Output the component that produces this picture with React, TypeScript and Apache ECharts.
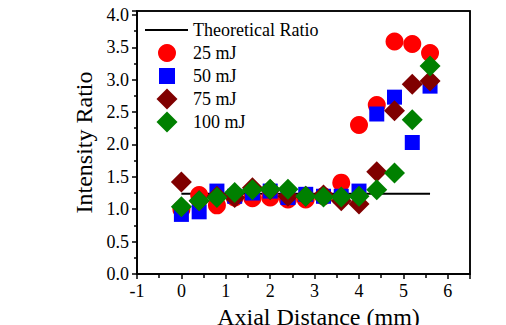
import React, { useEffect, useRef } from "react";
import * as echarts from "echarts";

const xPositions = [0, 0.4, 0.8, 1.2, 1.6, 2.0, 2.4, 2.8, 3.2, 3.6, 4.0, 4.4, 4.8, 5.2, 5.6];
const red25 = [1.0, 1.22, 1.06, 1.18, 1.17, 1.18, 1.15, 1.15, 1.2, 1.41, 2.3, 2.61, 3.59, 3.55, 3.41];
const blue50 = [0.92, 0.96, 1.28, 1.2, 1.25, 1.28, 1.18, 1.23, 1.2, 1.2, 1.28, 2.47, 2.73, 2.03, 2.9];
const maroon75 = [1.42, 1.13, 1.2, 1.18, 1.33, 1.3, 1.2, 1.2, 1.22, 1.13, 1.08, 1.58, 2.52, 2.93, 2.98];
const green100 = [1.04, 1.13, 1.18, 1.26, 1.3, 1.31, 1.31, 1.2, 1.19, 1.19, 1.2, 1.3, 1.56, 2.38, 3.21];
const theoreticalX = [0, 5.6];
const theoreticalY = [1.24, 1.24];
const seriesNames = ["Theoretical Ratio", "25 mJ", "50 mJ", "75 mJ", "100 mJ"];
const seriesColors = ["#000000", "#ff0000", "#0000ff", "#800000", "#008000"];

const X_MIN = -1;
const X_MAX = 6.5;
const Y_MIN = 0;
const Y_MAX = 4.06;

const FONT = "Liberation Serif";

export default function App() {
  const ref = useRef<HTMLDivElement>(null);
  useEffect(() => {
    if (!ref.current) return;
    const chart = echarts.init(ref.current, null, { renderer: "svg" });
    const pts = (ys: number[]) => xPositions.map((x, i) => [x, ys[i]]);

    const legendX = 145;
    const legendTop = 30;
    const legendStep = 23;
    const symCx = legendX + 22;
    const textX = legendX + 48;
    const els: any[] = [];
    seriesNames.forEach((name, i) => {
      const cy = legendTop + i * legendStep;
      const color = seriesColors[i];
      if (i === 0) {
        els.push({ type: "line", shape: { x1: legendX, y1: cy, x2: legendX + 43, y2: cy }, style: { stroke: color, lineWidth: 2 } });
      } else if (i === 1) {
        els.push({ type: "circle", shape: { cx: symCx, cy, r: 9 }, style: { fill: color } });
      } else if (i === 2) {
        els.push({ type: "rect", shape: { x: symCx - 8, y: cy - 8, width: 16, height: 16 }, style: { fill: color } });
      } else {
        els.push({
          type: "polygon",
          shape: { points: [[symCx, cy - 10.5], [symCx + 10.5, cy], [symCx, cy + 10.5], [symCx - 10.5, cy]] },
          style: { fill: color },
        });
      }
      els.push({
        type: "text",
        x: textX,
        y: cy,
        style: { text: name, font: `18px "${FONT}"`, fill: "#000", verticalAlign: "middle", align: "left" },
      });
    });

    chart.setOption({
      animation: false,
      backgroundColor: "#ffffff",
      grid: {
        left: 137,
        right: 36,
        top: 11,
        bottom: 51,
        outerBoundsMode: "none",
        containLabel: false,
        show: true,
        borderColor: "#000",
        borderWidth: 1.5,
        backgroundColor: "rgba(0,0,0,0)",
      },
      graphic: els,
      xAxis: {
        type: "value",
        min: X_MIN,
        max: X_MAX,
        interval: 1,
        axisLine: { show: true, onZero: false, lineStyle: { color: "#000", width: 1.5 } },
        axisTick: { show: true, inside: false, length: 5, lineStyle: { color: "#000", width: 1.5 } },
        minorTick: { show: true, splitNumber: 2, length: 4, lineStyle: { color: "#000", width: 1.5 } },
        splitLine: { show: false },
        axisLabel: {
          fontFamily: FONT,
          fontSize: 18,
          color: "#000",
          margin: 8,
          showMaxLabel: false,
          formatter: (v: number) => (Number.isInteger(v) ? String(v) : ""),
        },
        name: "Axial Distance (mm)",
        nameLocation: "middle",
        nameGap: 24,
        nameTextStyle: { fontFamily: FONT, fontSize: 24, color: "#000", padding: [0, 0, 0, 30] },
      },
      yAxis: {
        type: "value",
        min: Y_MIN,
        max: Y_MAX,
        interval: 0.5,
        axisLine: { show: true, onZero: false, lineStyle: { color: "#000", width: 1.5 } },
        axisTick: { show: true, inside: false, length: 5, lineStyle: { color: "#000", width: 1.5 } },
        minorTick: { show: true, splitNumber: 2, length: 3, lineStyle: { color: "#000", width: 1.5 } },
        splitLine: { show: false },
        axisLabel: {
          fontFamily: FONT,
          fontSize: 18,
          color: "#000",
          margin: 8,
          showMaxLabel: false,
          formatter: (v: number) => v.toFixed(1),
        },
        name: "Intensity Ratio",
        nameLocation: "middle",
        nameGap: 40,
        nameTextStyle: { fontFamily: FONT, fontSize: 24, color: "#000" },
      },
      series: [
        {
          name: "frame",
          type: "custom",
          silent: true,
          clip: false,
          data: [[X_MIN, Y_MIN]],
          renderItem: (_params: any, api: any) => {
            const p1 = api.coord([X_MIN, Y_MAX]);
            const p2 = api.coord([X_MAX, Y_MIN]);
            return {
              type: "rect",
              shape: { x: p1[0], y: p1[1], width: p2[0] - p1[0], height: p2[1] - p1[1] },
              style: { fill: "none", stroke: "#000", lineWidth: 1.5 },
            };
          },
          z: 0,
        },
        {
          name: "Theoretical Ratio",
          type: "line",
          data: theoreticalX.map((x, i) => [x, theoreticalY[i]]),
          symbol: "none",
          lineStyle: { color: seriesColors[0], width: 2 },
          itemStyle: { color: seriesColors[0] },
          z: 1,
        },
        {
          name: "25 mJ",
          type: "scatter",
          data: pts(red25),
          symbol: "circle",
          symbolSize: 18,
          itemStyle: { color: seriesColors[1], opacity: 1 },
          z: 2,
        },
        {
          name: "50 mJ",
          type: "scatter",
          data: pts(blue50),
          symbol: "rect",
          symbolSize: 15,
          itemStyle: { color: seriesColors[2], opacity: 1 },
          z: 3,
        },
        {
          name: "75 mJ",
          type: "scatter",
          data: pts(maroon75),
          symbol: "diamond",
          symbolSize: 21,
          itemStyle: { color: seriesColors[3], opacity: 1 },
          z: 4,
        },
        {
          name: "100 mJ",
          type: "scatter",
          data: pts(green100),
          symbol: "diamond",
          symbolSize: 21,
          itemStyle: { color: seriesColors[4], opacity: 1 },
          z: 5,
        },
      ],
    });
    return () => chart.dispose();
  }, []);
  return <div ref={ref} style={{ width: 506, height: 325, position: "absolute", left: 0, top: 0 }} />;
}
